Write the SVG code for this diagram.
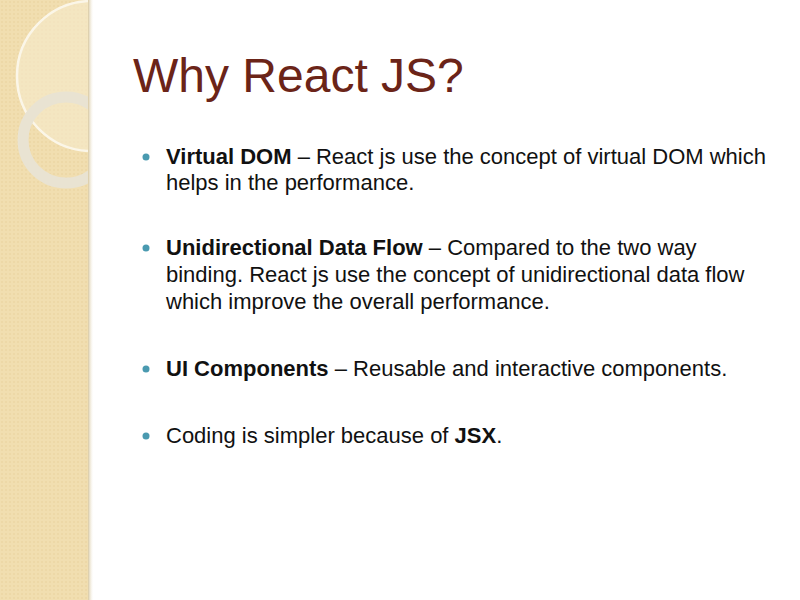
<svg xmlns="http://www.w3.org/2000/svg" width="800" height="600" viewBox="0 0 800 600">
<defs>
<clipPath id="pc"><rect x="0" y="0" width="88" height="600"/></clipPath>
<pattern id="dots" width="4" height="4" patternUnits="userSpaceOnUse"><rect width="4" height="4" fill="#f1deb0"/><circle cx="2" cy="2" r="0.8" fill="#e9d19c"/></pattern>
<linearGradient id="sh" x1="0" x2="1"><stop offset="0" stop-color="#d8c8a0"/><stop offset="1" stop-color="#ffffff" stop-opacity="0"/></linearGradient>
</defs>
<style>
.t{font-family:"Liberation Sans",Arial,sans-serif;font-size:22px;fill:#111}
.b{font-weight:bold}
.dot{fill:#4a9ab0}
</style>
<rect width="800" height="600" fill="#ffffff"/>
<g id="panel" clip-path="url(#pc)">
<rect width="88" height="600" fill="url(#dots)"/>
<circle cx="92" cy="76" r="75" fill="#f7ebcd" fill-opacity="0.6" stroke="#fbf6e8" stroke-width="2.5"/>
<circle cx="66" cy="140" r="43" fill="none" stroke="#e9e3d2" stroke-width="11"/>
</g>
<rect x="88" y="0" width="6" height="600" fill="url(#sh)"/>
<text id="title" x="133" y="92" font-family="Liberation Sans,Arial,sans-serif" font-size="48" fill="#6b2418">Why React JS?</text>
<g id="b1"><circle class="dot" cx="146" cy="157" r="3.5"/>
<text class="t" x="166" y="164"><tspan class="b">Virtual DOM</tspan> – React js use the concept of virtual DOM which</text>
<text class="t" x="166" y="190">helps in the performance.</text></g>
<g id="b2"><circle class="dot" cx="146" cy="248" r="3.5"/>
<text class="t" x="166" y="255"><tspan class="b">Unidirectional Data Flow</tspan> – Compared to the two way</text>
<text class="t" x="166" y="282">binding. React js use the concept of unidirectional data flow</text>
<text class="t" x="166" y="309">which improve the overall performance.</text></g>
<g id="b3"><circle class="dot" cx="146" cy="369" r="3.5"/>
<text class="t" x="166" y="376"><tspan class="b">UI Components</tspan> – Reusable and interactive components.</text></g>
<g id="b4"><circle class="dot" cx="146" cy="436" r="3.5"/>
<text class="t" x="166" y="443">Coding is simpler because of <tspan class="b">JSX</tspan>.</text></g>
</svg>
